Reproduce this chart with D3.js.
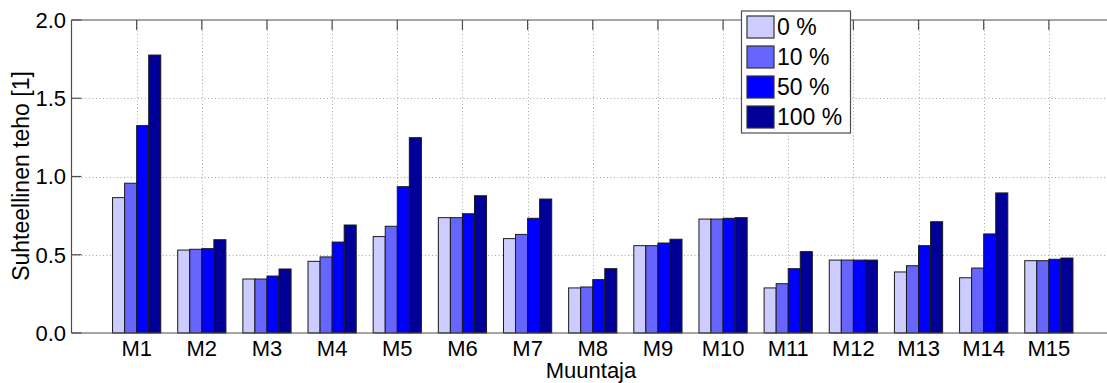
<!DOCTYPE html>
<html>
<head>
<meta charset="utf-8">
<script src="https://cdn.jsdelivr.net/npm/d3@7"></script>
<style>
  html, body { margin: 0; padding: 0; background: #fff; }
  svg { display: block; font-family: "Liberation Sans", Arial, sans-serif; }
</style>
</head>
<body>
<svg id="chart" width="1107" height="383"></svg>
<script>
// Transformers and their relative power for each loading level
const categories = ["M1","M2","M3","M4","M5","M6","M7","M8","M9","M10","M11","M12","M13","M14","M15"];
const seriesNames = ["0 %", "10 %", "50 %", "100 %"];
const load0   = [0.865, 0.530, 0.345, 0.458, 0.616, 0.737, 0.603, 0.288, 0.558, 0.728, 0.288, 0.466, 0.390, 0.353, 0.462];
const load10  = [0.957, 0.535, 0.345, 0.486, 0.682, 0.737, 0.630, 0.294, 0.558, 0.728, 0.315, 0.466, 0.430, 0.415, 0.462];
const load50  = [1.325, 0.539, 0.364, 0.581, 0.935, 0.762, 0.733, 0.341, 0.575, 0.733, 0.411, 0.466, 0.558, 0.633, 0.471];
const load100 = [1.776, 0.596, 0.409, 0.690, 1.248, 0.877, 0.856, 0.411, 0.599, 0.737, 0.520, 0.466, 0.711, 0.895, 0.479];
const seriesValues = [load0, load10, load50, load100];
const yTicks = [0.0, 0.5, 1.0, 1.5, 2.0];
const colors = ["#ccccff", "#6666ff", "#0000ff", "#000099"];

const svg = d3.select("#chart");
const plotLeft = 71.5, plotTop = 20, plotBottom = 333, plotRight = 1114;

// numeric category axis: positions 1..15 inside [0, 16]
const x = d3.scaleLinear().domain([0, 16]).range([plotLeft, plotRight]);
const y = d3.scaleLinear().domain([0, 2]).range([plotBottom, plotTop]);

const groupWidth = 0.74;
const barW = groupWidth / seriesNames.length;

const plot = svg.append("g");

// dotted grid
const grid = plot.append("g")
  .attr("stroke", "#a8a8a8").attr("stroke-width", 1).attr("stroke-dasharray", "1,2.5");
grid.selectAll("line.gy").data(yTicks.filter(v => v > 0 && v < 2)).join("line")
  .attr("class", "gy")
  .attr("x1", plotLeft).attr("x2", plotRight)
  .attr("y1", d => Math.round(y(d)) + 0.5).attr("y2", d => Math.round(y(d)) + 0.5);
grid.selectAll("line.gx").data(categories.map((c, i) => i + 1)).join("line")
  .attr("class", "gx")
  .attr("y1", plotTop).attr("y2", plotBottom)
  .attr("x1", d => Math.round(x(d)) + 0.5).attr("x2", d => Math.round(x(d)) + 0.5);

// bars
const bars = plot.append("g");
seriesValues.forEach((vals, s) => {
  bars.append("g")
    .attr("fill", colors[s])
    .attr("stroke", "#1a1a1a")
    .attr("stroke-width", 1)
    .selectAll("rect").data(vals).join("rect")
    .attr("x", (d, i) => x(i + 1 - groupWidth / 2 + s * barW))
    .attr("width", x(barW) - x(0))
    .attr("y", d => y(d))
    .attr("height", d => y(0) - y(d));
});

// axis box and ticks
const axisColor = "#4d4d4d";
const ax = plot.append("g").attr("stroke", axisColor).attr("stroke-width", 1.2).attr("fill", "none");
ax.append("line").attr("x1", plotLeft).attr("x2", plotRight).attr("y1", plotTop).attr("y2", plotTop);
ax.append("line").attr("x1", plotLeft).attr("x2", plotRight).attr("y1", plotBottom).attr("y2", plotBottom);
ax.append("line").attr("x1", plotLeft).attr("x2", plotLeft).attr("y1", plotTop).attr("y2", plotBottom);
ax.append("line").attr("x1", plotRight).attr("x2", plotRight).attr("y1", plotTop).attr("y2", plotBottom);

const tickLen = 10;
ax.selectAll("line.ty").data(yTicks).join("line").attr("class", "ty")
  .attr("x1", plotLeft).attr("x2", plotLeft + tickLen)
  .attr("y1", d => y(d)).attr("y2", d => y(d));
ax.selectAll("line.tx").data(categories.map((c, i) => i + 1)).join("line").attr("class", "tx")
  .attr("x1", d => x(d)).attr("x2", d => x(d))
  .attr("y1", plotTop).attr("y2", plotTop + tickLen);

// tick labels
svg.append("g").selectAll("text").data(yTicks).join("text")
  .attr("x", 66).attr("y", d => y(d))
  .attr("dy", "0.36em")
  .attr("text-anchor", "end")
  .attr("font-size", 22)
  .attr("fill", "#000")
  .text(d => d.toFixed(1));

svg.append("g").selectAll("text").data(categories).join("text")
  .attr("x", (d, i) => x(i + 1)).attr("y", 356)
  .attr("text-anchor", "middle")
  .attr("font-size", 22)
  .attr("fill", "#000")
  .text(d => d);

// axis titles
svg.append("text")
  .attr("x", 591).attr("y", 378)
  .attr("text-anchor", "middle").attr("font-size", 22).attr("fill", "#000")
  .text("Muuntaja");
svg.append("text")
  .attr("transform", "translate(29,176) rotate(-90)")
  .attr("text-anchor", "middle").attr("font-size", 23).attr("fill", "#000")
  .text("Suhteellinen teho [1]");

// legend
const lg = svg.append("g");
lg.append("rect")
  .attr("x", 741.5).attr("y", 11).attr("width", 109).attr("height", 122)
  .attr("fill", "#fff").attr("stroke", axisColor).attr("stroke-width", 1.2);
const items = lg.selectAll("g.item").data(seriesNames).join("g").attr("class", "item")
  .attr("transform", (d, i) => `translate(747,${16 + i * 30})`);
items.append("rect")
  .attr("width", 27).attr("height", 22)
  .attr("fill", (d, i) => colors[i])
  .attr("stroke", "#333").attr("stroke-width", 1.2);
items.append("text")
  .attr("x", 30).attr("y", 11).attr("dy", "0.36em")
  .attr("font-size", 23).attr("fill", "#000")
  .text(d => d);
</script>
</body>
</html>
